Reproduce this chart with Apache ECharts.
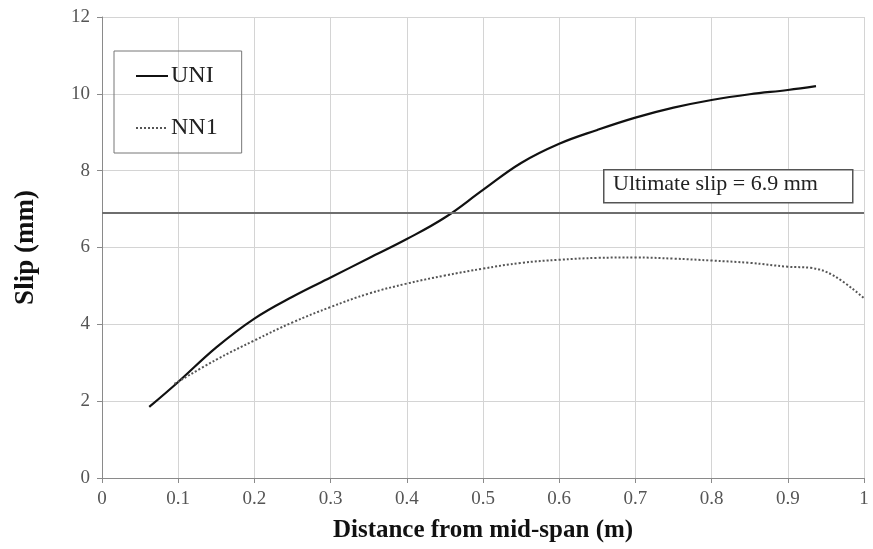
<!DOCTYPE html>
<html><head><meta charset="utf-8">
<script src="https://cdn.jsdelivr.net/npm/echarts@6/dist/echarts.min.js"></script>
<style>html,body{margin:0;padding:0;background:#fff}#c{width:873px;height:549px}</style>
</head><body><div id="c"></div>
<script>
const uniX = [0.062, 0.1, 0.15, 0.2, 0.25, 0.3, 0.35, 0.4, 0.45, 0.5, 0.55, 0.6, 0.65, 0.7, 0.75, 0.8, 0.85, 0.9, 0.937];
const uniY = [1.85, 2.5, 3.4, 4.15, 4.72, 5.22, 5.72, 6.22, 6.78, 7.5, 8.2, 8.7, 9.06, 9.38, 9.64, 9.84, 9.99, 10.1, 10.2];
const nn1X = [0.095, 0.15, 0.2, 0.25, 0.3, 0.35, 0.4, 0.45, 0.5, 0.55, 0.6, 0.65, 0.7, 0.75, 0.8, 0.85, 0.9, 0.93, 0.96, 1.0];
const nn1Y = [2.45, 3.08, 3.58, 4.05, 4.45, 4.8, 5.06, 5.27, 5.45, 5.6, 5.68, 5.73, 5.74, 5.71, 5.66, 5.6, 5.5, 5.47, 5.27, 4.68];
const ultimateSlip = 6.9;
const xTicks = [0, 0.1, 0.2, 0.3, 0.4, 0.5, 0.6, 0.7, 0.8, 0.9, 1];
const yTicks = [0, 2, 4, 6, 8, 10, 12];

const font = 'Liberation Serif';
const chart = echarts.init(document.getElementById('c'));
chart.setOption({
  animation: false,
  backgroundColor: '#fff',
  grid: { left: 102, right: 9, top: 17, bottom: 71 },
  legend: {
    left: 114, top: 51, orient: 'vertical',
    data: ['UNI', 'NN1'],
    padding: [13, 24, 13, 21],
    borderColor: '#777', borderWidth: 1,
    itemWidth: 32, itemHeight: 10, itemGap: 28,
    itemStyle: { opacity: 0 },
    textStyle: { fontFamily: font, fontSize: 24, color: '#222', padding: [0, 0, 0, -2] }
  },
  xAxis: {
    type: 'value', min: 0, max: 1, interval: 0.1,
    name: 'Distance from mid-span (m)', nameLocation: 'middle', nameGap: 40,
    nameTextStyle: { fontFamily: font, fontSize: 25, fontWeight: 'bold', color: '#111' },
    axisLine: { show: true, lineStyle: { color: '#8a8a8a' } },
    axisTick: { show: true, length: 5, lineStyle: { color: '#8a8a8a' } },
    axisLabel: { fontFamily: font, fontSize: 19, color: '#555', margin: 12,
      formatter: v => (Math.round(v * 10) / 10).toString() },
    splitLine: { show: true, lineStyle: { color: '#d4d4d4' } }
  },
  yAxis: {
    type: 'value', min: 0, max: 12, interval: 2,
    name: 'Slip (mm)', nameLocation: 'middle', nameGap: 62, nameRotate: 90,
    nameTextStyle: { fontFamily: font, fontSize: 27, fontWeight: 'bold', color: '#111' },
    axisLine: { show: true, lineStyle: { color: '#8a8a8a' } },
    axisTick: { show: true, length: 5, lineStyle: { color: '#8a8a8a' } },
    axisLabel: { fontFamily: font, fontSize: 19, color: '#555', margin: 12 },
    splitLine: { show: true, lineStyle: { color: '#d4d4d4' } }
  },
  series: [
    { name: 'UNI', type: 'line', smooth: 0.4, symbol: 'none',
      lineStyle: { color: '#111', width: 2.2 }, itemStyle: { color: '#111' },
      data: uniX.map((x, i) => [x, uniY[i]]) },
    { name: 'NN1', type: 'line', smooth: 0.4, symbol: 'none',
      lineStyle: { color: '#555', width: 2, type: [2, 2] }, itemStyle: { color: '#555' },
      data: nn1X.map((x, i) => [x, nn1Y[i]]) },
    { name: 'Ultimate', type: 'line', symbol: 'none', silent: true,
      lineStyle: { color: '#6e6e6e', width: 2 },
      data: [[0, ultimateSlip], [1, ultimateSlip]] }
  ],
  graphic: [
    { type: 'rect', left: 603, top: 169, z: 100, shape: { width: 249, height: 33 },
      style: { fill: '#fff', stroke: '#555', lineWidth: 1.5 } },
    { type: 'text', left: 613, top: 173, z: 101,
      style: { text: 'Ultimate slip = 6.9 mm', font: '22px "Liberation Serif"', fill: '#222' } }
  ]
});
</script></body></html>
